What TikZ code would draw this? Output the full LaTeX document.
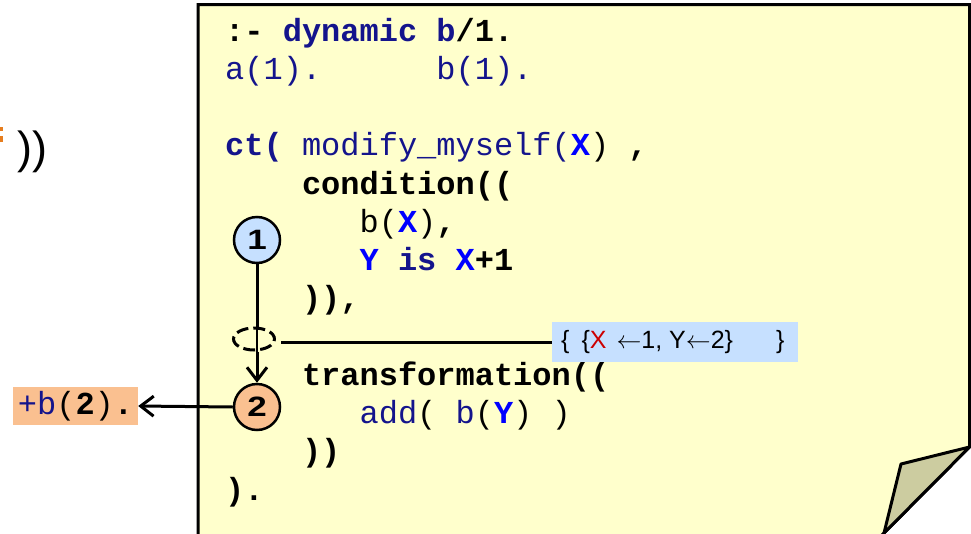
\documentclass[tikz,border=0pt]{standalone}
\usepackage{fontspec}
\setmainfont{Liberation Sans}
\setsansfont{Liberation Sans}
\setmonofont{Liberation Mono}
\usetikzlibrary{arrows.meta,shapes.geometric}

\definecolor{notefill}{RGB}{255,255,204}
\definecolor{foldfill}{RGB}{204,204,160}
\definecolor{codenavy}{RGB}{20,20,140}
\definecolor{varblue}{RGB}{0,0,255}
\definecolor{lightblue}{RGB}{198,224,255}
\definecolor{peach}{RGB}{250,192,144}
\definecolor{accentred}{RGB}{204,0,0}
\definecolor{snippetorange}{RGB}{230,125,30}

\newcommand\cnavy[1]{\textcolor{codenavy}{#1}}
\newcommand\cvar[1]{\textcolor{varblue}{\bfseries #1}}
\newcommand\codeat[4]{\node[code] (#1) at ({225+19.2*#2},{41+38.25*(#3-1)}) {#4};}
\newcommand\wide[1]{\scalebox{1.25}[1]{#1}}

\tikzset{
  code/.style={anchor=base west, inner sep=0pt,
    font=\ttfamily\fontsize{32}{38}\selectfont},
  note/.style={fill=notefill, draw=black, line width=3pt, line join=miter},
  fold/.style={fill=foldfill, draw=black, line width=3pt, line join=round},
  stepcircle/.style={circle, draw=black, line width=2.5pt, minimum size=46pt,
    inner sep=0pt, font=\sffamily\bfseries\fontsize{28}{28}\selectfont},
  conn/.style={line width=3pt},
  tip/.style={-{Straight Barb[length=13pt,width=20pt]}},
  tag/.style={inner sep=0pt},
}

\begin{document}
\begin{tikzpicture}[x=1pt,y=-1pt]
\useasboundingbox (0,0) rectangle (971,533);

% fragment of a preceding expression at the left
\fill[snippetorange] (0,127) rectangle (3,131);
\fill[snippetorange] (0,136) rectangle (3,142);
\node[anchor=base west, inner sep=0pt, font=\sffamily\fontsize{45}{45}\selectfont]
  (closing) at (17,163) {))};

% the note sheet with a folded corner
\filldraw[note] (198,548) -- (198,4.5) -- (969.5,4.5) -- (969.5,447)
  -- (884,533) -- (869,548) -- cycle;
\filldraw[fold] (969.5,447) -- (901,464) -- (884,533) -- cycle;

% program text
\codeat{l1}{0}{1}{\bfseries :- \cnavy{dynamic b}/1.}
\codeat{l2a}{0}{2}{\cnavy{a(1).}}
\codeat{l2b}{11}{2}{\cnavy{b(1).}}
\codeat{l4}{0}{4}{\cnavy{\bfseries ct(} \cnavy{modify\_myself(}\cvar{X}) {\bfseries ,}}
\codeat{l5}{4}{5}{\bfseries condition((}
\codeat{l6}{7}{6}{b(\cvar{X}){\bfseries ,}}
\codeat{l7}{7}{7}{\cvar{Y}\textcolor{codenavy}{\bfseries\ is\ }\cvar{X}\textbf{+1}}
\codeat{l8}{4}{8}{\bfseries )),}
\codeat{l10}{4}{10}{\bfseries transformation((}
\codeat{l11}{7}{11}{\cnavy{add}( \cnavy{b}(\cvar{Y}) )}
\codeat{l12}{4}{12}{\bfseries ))}
\codeat{l13}{0}{13}{\bfseries ).}

% steps of the rule
\node[stepcircle, fill=lightblue] (c1) at (257,240) {\wide{1}};
\node[stepcircle, fill=peach] (c2) at (257,407) {\wide{2}};
\node[ellipse, draw=black, line width=3pt, dash pattern=on 12pt off 5pt,
  dash phase=3pt, minimum width=41pt, minimum height=22pt, inner sep=0pt]
  (bind) at (254,339) {};

% substitution produced by the condition
\node[tag, fill=lightblue, minimum width=246pt, minimum height=40pt]
  (subst) at (675,342) {};
\node[anchor=base west, inner sep=0pt, font=\sffamily\fontsize{25}{25}\selectfont]
  (substtext) at (561,348)
  {\{\hspace{12pt}\{\textcolor{accentred}{X}\hspace{10pt}$\leftarrow$1, Y$\leftarrow$2\}\hspace{43pt}\}};

% resulting fact
\node[tag, fill=peach, minimum width=125pt, minimum height=38pt,
  font=\ttfamily\fontsize{32}{38}\selectfont]
  (result) at (75.5,406) {\cnavy{+b}(\textbf{2})\textbf{.}};

% connectors
\draw[conn] (c1.south) -- (c1 |- bind.north);
\draw[line width=1.5pt] (c1 |- bind.north) -- (c1 |- bind.south);
\draw[conn, tip] (c1 |- bind.south) -- (c2.north);
\draw[conn, shorten <=5pt] (subst.west -| bind.east) -- (subst.west);
\draw[conn, tip] (c2.west) -- (result.east);
\end{tikzpicture}
\end{document}
